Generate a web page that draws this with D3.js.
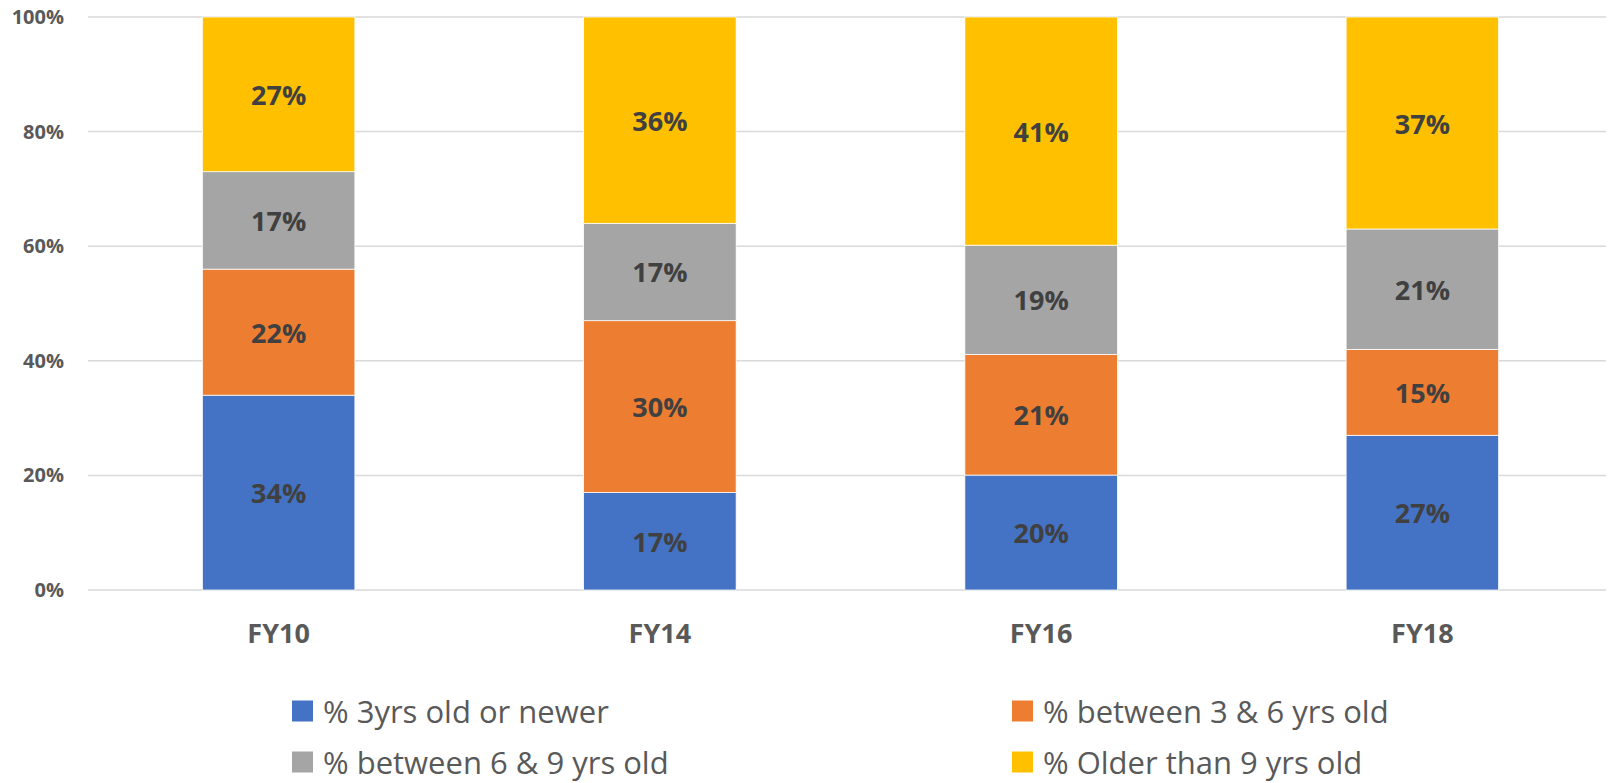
<!DOCTYPE html>
<html>
<head>
<meta charset="utf-8">
<script src="https://cdn.jsdelivr.net/npm/d3@7"></script>
<style>
  body { margin: 0; background: #fff; }
  svg { display: block; font-family: "Open Sans", sans-serif; }
</style>
</head>
<body>
<svg id="chart" width="1608" height="783"></svg>
<script>
// data (percent shares, 100% stacked like the excel chart)
var years = ["FY10", "FY14", "FY16", "FY18"];
var seriesNames = ["% 3yrs old or newer", "% between 3 & 6 yrs old", "% between 6 & 9 yrs old", "% Older than 9 yrs old"];
var newer = [34, 17, 20.4, 27];
var between3and6 = [22, 30, 21.4, 15];
var between6and9 = [17, 17, 19.4, 21];
var older = [27, 36, 40.5, 37];
var yTicks = [0, 0.2, 0.4, 0.6, 0.8, 1];

var colors = ["#4472C4", "#ED7D31", "#A5A5A5", "#FFC000"];
var keys = ["newer", "b36", "b69", "older"];

// rows for d3.stack
var rows = years.map(function(y, i) {
  return { year: y, newer: newer[i], b36: between3and6[i], b69: between6and9[i], older: older[i] };
});

var svg = d3.select("#chart");

var x = d3.scaleBand().domain(years).range([88, 1613]).paddingInner(0.6).paddingOuter(0.3);
var y = d3.scaleLinear().domain([0, 1]).range([590, 17]);

// gridlines
svg.append("g")
  .selectAll("line")
  .data(yTicks)
  .join("line")
  .attr("x1", 88)
  .attr("x2", 1606)
  .attr("y1", function(d) { return y(d); })
  .attr("y2", function(d) { return y(d); })
  .attr("stroke", "#D9D9D9")
  .attr("stroke-width", 1.5);

// y axis labels
var yAxis = d3.axisLeft(y).tickValues(yTicks).tickFormat(d3.format(".0%")).tickSize(0).tickPadding(0);
svg.append("g")
  .attr("transform", "translate(64,0)")
  .call(yAxis)
  .call(function(g) { g.select(".domain").remove(); })
  .selectAll("text")
  .attr("font-family", "Open Sans")
  .attr("font-size", 20)
  .attr("font-weight", "bold")
  .attr("fill", "#595959");

var stacked = d3.stack().keys(keys).offset(d3.stackOffsetExpand)(rows);

var layer = svg.append("g")
  .selectAll("g")
  .data(stacked)
  .join("g")
  .attr("fill", function(d, i) { return colors[i]; });

layer.selectAll("rect")
  .data(function(d) { return d; })
  .join("rect")
  .attr("x", function(d) { return x(d.data.year); })
  .attr("width", x.bandwidth())
  .attr("y", function(d) { return y(d[1]); })
  .attr("height", function(d) { return y(d[0]) - y(d[1]); })
  .attr("stroke", "#fff")
  .attr("stroke-width", 0.75);

// data labels show the raw value
layer.selectAll("text")
  .data(function(d) { return d.map(function(p) { p.key = d.key; return p; }); })
  .join("text")
  .attr("x", function(d) { return x(d.data.year) + x.bandwidth() / 2; })
  .attr("y", function(d) { return y((d[0] + d[1]) / 2); })
  .attr("text-anchor", "middle")
  .attr("dominant-baseline", "central")
  .attr("font-size", 27)
  .attr("font-weight", "bold")
  .attr("fill", "#404040")
  .text(function(d) { return Math.round(d.data[d.key]) + "%"; });

// x axis labels
var xAxis = d3.axisBottom(x).tickSize(0).tickPadding(0);
svg.append("g")
  .attr("transform", "translate(0,632)")
  .call(xAxis)
  .call(function(g) { g.select(".domain").remove(); })
  .selectAll("text")
  .attr("dy", null)
  .attr("dominant-baseline", "central")
  .attr("font-family", "Open Sans")
  .attr("font-size", 27)
  .attr("font-weight", "bold")
  .attr("fill", "#595959");

// legend, 2 columns
var legendPos = [[292, 711], [1012, 711], [292, 762], [1012, 762]];
var legend = svg.append("g")
  .selectAll("g")
  .data(seriesNames)
  .join("g")
  .attr("transform", function(d, i) { return "translate(" + legendPos[i][0] + "," + legendPos[i][1] + ")"; });

legend.append("rect")
  .attr("x", 0)
  .attr("y", -10.5)
  .attr("width", 21)
  .attr("height", 21)
  .attr("fill", function(d, i) { return colors[i]; });

legend.append("text")
  .attr("x", 31)
  .attr("y", 0)
  .attr("dominant-baseline", "central")
  .attr("font-size", 31)
  .attr("fill", "#595959")
  .text(function(d) { return d; });
</script>
</body>
</html>
